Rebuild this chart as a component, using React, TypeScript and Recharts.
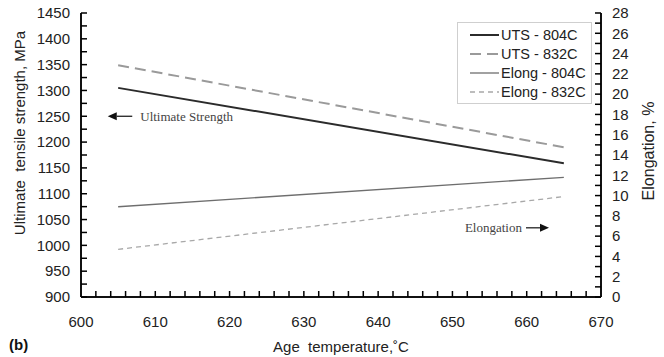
import React from "react";
import {
  ComposedChart,
  Line,
  XAxis,
  YAxis,
  Legend,
  ReferenceLine,
  Label,
} from "recharts";

const temps = [605, 665];
const uts804 = [1305, 1159];
const uts832 = [1349, 1190];
const elong804 = [8.9, 11.8];
const elong832 = [4.7, 9.9];

const xTicks = Array.from({ length: 36 }, (_, i) => 600 + i * 2);
const leftTicks = Array.from({ length: 23 }, (_, i) => 900 + i * 25);
const rightTicks = Array.from({ length: 29 }, (_, i) => i);

const series = [
  { key: "uts804", name: "UTS - 804C", axis: "left", color: "#2b2b2b", width: 2, dash: "" },
  { key: "uts832", name: "UTS - 832C", axis: "left", color: "#9a9a9a", width: 2, dash: "11 6" },
  { key: "elong804", name: "Elong - 804C", axis: "right", color: "#6e6e6e", width: 1.3, dash: "" },
  { key: "elong832", name: "Elong - 832C", axis: "right", color: "#a8a8a8", width: 1.3, dash: "5 4" },
];

const data = temps.map((t, i) => ({
  temp: t,
  uts804: uts804[i],
  uts832: uts832[i],
  elong804: elong804[i],
  elong832: elong832[i],
}));

const tickFont = "Arial, 'Liberation Sans', sans-serif";
const textColor = "#222";

// plot frame edges
const plotLeft = 81;
const plotRight = 601;
const plotBottom = 297;
const tickLen = 6;

// the axes draw the inward tick lines themselves (negative tickSize); these only place the labels
const BottomTick = ({ x, payload }: any) =>
  payload.value % 10 === 0 ? (
    <text x={x} y={plotBottom + 25} dy="0.35em" textAnchor="middle" fontSize={15} fontFamily={tickFont} fill={textColor}>
      {payload.value}
    </text>
  ) : (
    <g />
  );

const LeftTick = ({ y, payload }: any) =>
  payload.value % 50 === 0 ? (
    <text x={plotLeft - 11} y={y} dy="0.35em" textAnchor="end" fontSize={15} fontFamily={tickFont} fill={textColor}>
      {payload.value}
    </text>
  ) : (
    <g />
  );

const RightTick = ({ y, payload }: any) =>
  payload.value % 2 === 0 ? (
    <text x={plotRight + 11} y={y} dy="0.35em" textAnchor="start" fontSize={15} fontFamily={tickFont} fill={textColor}>
      {payload.value}
    </text>
  ) : (
    <g />
  );

const ArrowNote = ({ x1, y1, x2, y2, text, side }: any) => {
  const dir = x2 > x1 ? 1 : -1;
  const baseX = x2 - dir * 9;
  return (
    <g>
      <line x1={x1} y1={y1} x2={baseX} y2={y2} stroke="#222" strokeWidth={1.3} />
      <polygon points={`${x2},${y2} ${baseX},${y2 - 4} ${baseX},${y2 + 4}`} fill="#111" />
      <text
        x={side === "after" ? x1 + 8 : x1 - 4}
        y={y1}
        dy="0.35em"
        textAnchor={side === "after" ? "start" : "end"}
        fontSize={13}
        fontFamily="'Times New Roman', 'Liberation Serif', serif"
        fill="#444"
      >
        {text}
      </text>
    </g>
  );
};

const LegendBox = () => (
  <div
    style={{
      border: "1px solid #cfcfcf",
      background: "#fff",
      width: 133,
      padding: "2px 0",
      fontFamily: tickFont,
      fontSize: 14.5,
      color: textColor,
    }}
  >
    {series.map((s) => (
      <div key={s.key} style={{ display: "flex", alignItems: "center", height: 19, paddingLeft: 12 }}>
        <svg width={29} height={6} style={{ marginRight: 2 }}>
          <line x1={0} x2={29} y1={3} y2={3} stroke={s.color} strokeWidth={s.width} strokeDasharray={s.dash} />
        </svg>
        <span>{s.name}</span>
      </div>
    ))}
  </div>
);

const LeftTitle = () => (
  <text
    x={20}
    y={133}
    transform="rotate(-90 20 133)"
    textAnchor="middle"
    dy="0.35em"
    fontSize={15}
    fontFamily={tickFont}
    fill={textColor}
    style={{ whiteSpace: "pre" }}
  >
    {"Ultimate  tensile strength, MPa"}
  </text>
);

const RightTitle = () => (
  <text
    x={648}
    y={151}
    transform="rotate(-90 648 151)"
    textAnchor="middle"
    dy="0.35em"
    fontSize={16}
    fontFamily={tickFont}
    fill={textColor}
  >
    Elongation, %
  </text>
);

const BottomTitle = () => (
  <g>
    <text x={341} y={347} textAnchor="middle" dy="0.35em" fontSize={15} fontFamily={tickFont} fill={textColor} style={{ whiteSpace: "pre" }}>
      {"Age  temperature,˚C"}
    </text>
    <text x={9} y={345} dy="0.35em" fontSize={15} fontWeight="bold" fontFamily={tickFont} fill="#111">
      (b)
    </text>
  </g>
);

const tickLineStyle = { stroke: "#000", strokeWidth: 1.5 };
const axisLineStyle = { stroke: "#111", strokeWidth: 2 };

export default function App() {
  return (
    <div style={{ width: 664, height: 357, background: "#fff" }}>
      <style>{"body{margin:0;background:#fff}"}</style>
      <ComposedChart width={664} height={357} data={data} margin={{ top: 13, right: 0, bottom: 0, left: 0 }}>
        <XAxis
          dataKey="temp"
          type="number"
          domain={[600, 670]}
          ticks={xTicks}
          interval={0}
          height={60}
          tickSize={-tickLen}
          tickLine={tickLineStyle}
          tick={<BottomTick />}
          axisLine={axisLineStyle}
        >
          <Label content={<BottomTitle />} />
        </XAxis>
        <XAxis
          xAxisId="top"
          dataKey="temp"
          type="number"
          domain={[600, 670]}
          orientation="top"
          height={0}
          tick={false}
          tickLine={false}
          axisLine={axisLineStyle}
        />
        <YAxis
          yAxisId="left"
          domain={[900, 1450]}
          ticks={leftTicks}
          interval={0}
          width={81}
          tickSize={-tickLen}
          tickLine={tickLineStyle}
          tick={<LeftTick />}
          axisLine={axisLineStyle}
        >
          <Label content={<LeftTitle />} />
        </YAxis>
        <YAxis
          yAxisId="right"
          orientation="right"
          domain={[0, 28]}
          ticks={rightTicks}
          interval={0}
          width={63}
          tickSize={-tickLen}
          tickLine={tickLineStyle}
          tick={<RightTick />}
          axisLine={axisLineStyle}
        >
          <Label content={<RightTitle />} />
        </YAxis>
        <Legend
          layout="horizontal"
          verticalAlign="middle"
          align="center"
          content={<LegendBox />}
          wrapperStyle={{ position: "absolute", left: 457, top: 22, width: 135 }}
        />
        {series.map((s) => (
          <Line
            key={s.key}
            yAxisId={s.axis}
            dataKey={s.key}
            name={s.name}
            stroke={s.color}
            strokeWidth={s.width}
            strokeDasharray={s.dash || undefined}
            dot={false}
            activeDot={false}
            isAnimationActive={false}
          />
        ))}
        <ReferenceLine
          yAxisId="left"
          segment={[{ x: 606.9, y: 1250 }, { x: 603.6, y: 1250 }]}
          shape={(p: any) => <ArrowNote {...p} text="Ultimate Strength" side="after" />}
        />
        <ReferenceLine
          yAxisId="left"
          segment={[{ x: 659.9, y: 1034 }, { x: 663.0, y: 1034 }]}
          shape={(p: any) => <ArrowNote {...p} text="Elongation" side="before" />}
        />
      </ComposedChart>
    </div>
  );
}
